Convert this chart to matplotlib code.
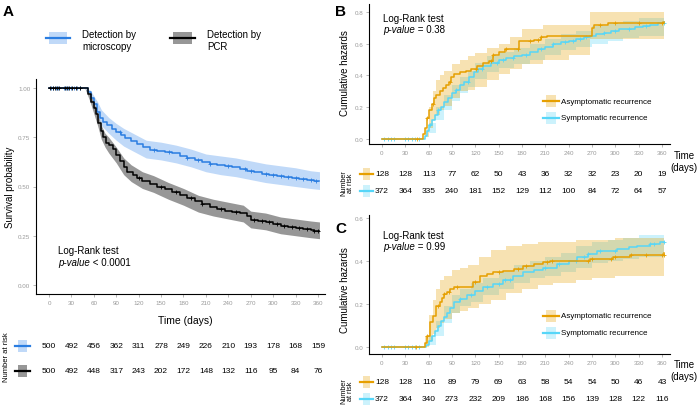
import numpy as np
import matplotlib
matplotlib.use("Agg")
import matplotlib.pyplot as plt
from matplotlib.lines import Line2D
from matplotlib.patches import Rectangle

plt.rcParams['font.family'] = ['Liberation Sans', 'DejaVu Sans']

W, H = 700, 406

# ---------------- data: panel A (survival) ----------------
mic_t = [0, 48, 52, 56, 60, 64, 68, 72, 78, 84, 90, 96, 102, 110, 118, 126, 135, 145, 155, 165,
         175, 185, 195, 205, 215, 225, 235, 245, 255, 265, 275, 285, 295, 305, 315, 325, 335, 345, 355, 362]
mic_s = [1.0, 1.0, 0.98, 0.95, 0.92, 0.88, 0.85, 0.83, 0.81, 0.79, 0.775, 0.76, 0.745, 0.73, 0.715, 0.70,
         0.685, 0.68, 0.675, 0.67, 0.655, 0.645, 0.635, 0.625, 0.615, 0.61, 0.605, 0.60, 0.59, 0.58,
         0.575, 0.565, 0.56, 0.555, 0.55, 0.545, 0.54, 0.535, 0.53, 0.53]
mic_band_t = [0, 48, 55, 60, 65, 70, 80, 90, 100, 115, 130, 150, 170, 190, 210, 230, 250, 270, 290, 310, 330, 350, 362]
mic_lo = [1.0, 1.0, 0.95, 0.90, 0.85, 0.81, 0.77, 0.735, 0.705, 0.675, 0.645, 0.635, 0.62, 0.60, 0.575,
          0.56, 0.55, 0.535, 0.52, 0.51, 0.50, 0.49, 0.485]
mic_hi = [1.0, 1.0, 0.99, 0.96, 0.93, 0.89, 0.85, 0.82, 0.795, 0.765, 0.735, 0.725, 0.71, 0.69, 0.665,
          0.655, 0.645, 0.63, 0.615, 0.605, 0.595, 0.58, 0.575]
mic_cens = [3, 6, 9, 12, 20, 23, 26, 29, 33, 38, 42, 95, 140, 160, 185, 200, 215, 240, 262, 270, 290,
            300, 310, 320, 330, 340, 350, 358]

pcr_t = [0, 48, 52, 56, 60, 63, 66, 69, 72, 76, 80, 85, 90, 95, 100, 105, 112, 118, 125, 135, 145, 155,
         165, 175, 185, 195, 205, 215, 225, 235, 245, 255, 265, 270, 280, 290, 300, 310, 320, 330, 340,
         350, 355, 362]
pcr_s = [1.0, 1.0, 0.97, 0.93, 0.90, 0.87, 0.82, 0.78, 0.75, 0.72, 0.71, 0.69, 0.66, 0.63, 0.60, 0.575,
         0.56, 0.545, 0.53, 0.515, 0.50, 0.485, 0.47, 0.455, 0.44, 0.425, 0.41, 0.395, 0.385, 0.375,
         0.37, 0.365, 0.35, 0.33, 0.325, 0.32, 0.31, 0.30, 0.295, 0.29, 0.285, 0.28, 0.275, 0.275]
pcr_band_t = [0, 48, 55, 60, 65, 70, 75, 80, 90, 100, 110, 125, 140, 160, 180, 200, 220, 240, 260, 270,
              290, 310, 330, 350, 362]
pcr_lo = [1.0, 1.0, 0.93, 0.87, 0.81, 0.74, 0.70, 0.67, 0.62, 0.56, 0.525, 0.49, 0.47, 0.435, 0.405,
          0.37, 0.35, 0.335, 0.32, 0.29, 0.28, 0.26, 0.25, 0.24, 0.235]
pcr_hi = [1.0, 1.0, 0.97, 0.93, 0.87, 0.81, 0.77, 0.75, 0.70, 0.645, 0.61, 0.575, 0.555, 0.52, 0.49,
          0.455, 0.435, 0.42, 0.405, 0.375, 0.365, 0.345, 0.335, 0.325, 0.32]
pcr_cens = [2, 5, 8, 11, 14, 21, 24, 27, 31, 36, 41, 120, 150, 170, 190, 205, 230, 250, 275, 285,
            295, 305, 315, 325, 335, 345, 355, 360]

risk_a_mic = [500, 492, 456, 362, 311, 278, 249, 226, 210, 193, 178, 168, 159]
risk_a_pcr = [500, 492, 448, 317, 243, 202, 172, 148, 132, 116, 95, 84, 76]

# ---------------- data: panel B (cumulative hazard) ----------------
b_asy_t = [0, 50, 53, 55, 58, 61, 64, 67, 70, 74, 78, 82, 86, 89, 92, 100, 108, 115, 122, 130, 138,
           143, 150, 158, 176, 195, 205, 212, 268, 270, 273, 290, 363]
b_asy_h = [0, 0, 0.03, 0.07, 0.13, 0.18, 0.22, 0.26, 0.28, 0.30, 0.32, 0.34, 0.36, 0.39, 0.41, 0.42,
           0.43, 0.44, 0.46, 0.48, 0.49, 0.53, 0.55, 0.565, 0.62, 0.625, 0.64, 0.65, 0.65, 0.70, 0.72,
           0.73, 0.735]
b_asy_band_t = [0, 50, 55, 60, 65, 70, 75, 80, 90, 100, 110, 120, 135, 150, 165, 180, 207, 240, 268, 300, 363]
b_asy_lo = [0, 0, 0.01, 0.07, 0.12, 0.15, 0.18, 0.21, 0.26, 0.30, 0.31, 0.33, 0.37, 0.41, 0.44, 0.47,
            0.50, 0.53, 0.63, 0.63, 0.63]
b_asy_hi = [0, 0, 0.06, 0.20, 0.30, 0.37, 0.40, 0.43, 0.47, 0.50, 0.52, 0.54, 0.57, 0.60, 0.64, 0.69,
            0.72, 0.72, 0.80, 0.80, 0.81]
b_asy_cens = [45, 58, 66, 88, 121, 140, 143, 160, 175, 190, 200, 205, 280, 300, 330, 360]

b_sym_t = [0, 52, 55, 58, 61, 64, 68, 72, 76, 80, 85, 90, 95, 100, 106, 112, 118, 124, 130, 140, 150,
           160, 170, 180, 190, 200, 210, 220, 230, 240, 250, 260, 268, 275, 285, 295, 305, 315, 325,
           335, 345, 355, 363]
b_sym_h = [0, 0, 0.02, 0.05, 0.09, 0.12, 0.15, 0.18, 0.20, 0.23, 0.26, 0.29, 0.31, 0.34, 0.36, 0.39,
           0.42, 0.44, 0.46, 0.48, 0.50, 0.51, 0.52, 0.53, 0.55, 0.565, 0.58, 0.595, 0.61, 0.62, 0.63,
           0.64, 0.65, 0.66, 0.67, 0.68, 0.69, 0.695, 0.705, 0.71, 0.72, 0.73, 0.735]
b_sym_band_t = [0, 52, 60, 70, 80, 90, 100, 110, 120, 135, 150, 170, 190, 210, 230, 250, 270, 290, 310, 330, 363]
b_sym_lo = [0, 0, 0.04, 0.12, 0.18, 0.24, 0.29, 0.33, 0.38, 0.42, 0.45, 0.47, 0.50, 0.53, 0.56, 0.58,
            0.60, 0.62, 0.635, 0.65, 0.67]
b_sym_hi = [0, 0, 0.10, 0.20, 0.28, 0.34, 0.39, 0.43, 0.48, 0.52, 0.55, 0.57, 0.60, 0.63, 0.66, 0.68,
            0.71, 0.73, 0.745, 0.76, 0.78]
b_sym_cens = [3, 8, 12, 16, 30, 34, 38, 42, 47, 62, 72, 95, 110, 128, 148, 155, 168, 185, 205, 220,
              235, 245, 255, 262, 285, 300, 318, 340, 362]

risk_b_asy = [128, 128, 113, 77, 62, 50, 43, 36, 32, 32, 23, 20, 19]
risk_b_sym = [372, 364, 335, 240, 181, 152, 129, 112, 100, 84, 72, 64, 57]

# ---------------- data: panel C (cumulative hazard) ----------------
c_asy_t = [0, 51, 55, 58, 62, 66, 70, 74, 77, 80, 83, 88, 92, 109, 117, 126, 135, 143, 156, 170, 181,
           195, 207, 216, 267, 297, 319, 363]
c_asy_h = [0, 0, 0.02, 0.05, 0.115, 0.145, 0.19, 0.21, 0.23, 0.245, 0.255, 0.27, 0.28, 0.28, 0.305,
           0.33, 0.34, 0.35, 0.355, 0.365, 0.378, 0.385, 0.395, 0.40, 0.41, 0.42, 0.43, 0.44]
c_asy_band_t = [0, 50, 55, 60, 65, 70, 75, 80, 90, 100, 110, 125, 140, 160, 180, 200, 220, 250, 270, 300, 363]
c_asy_lo = [0, 0, 0.0, 0.03, 0.06, 0.09, 0.11, 0.13, 0.16, 0.17, 0.18, 0.20, 0.22, 0.25, 0.27, 0.29,
            0.30, 0.31, 0.32, 0.33, 0.335]
c_asy_hi = [0, 0, 0.05, 0.15, 0.22, 0.27, 0.31, 0.33, 0.36, 0.37, 0.38, 0.42, 0.45, 0.47, 0.48, 0.49,
            0.49, 0.50, 0.50, 0.51, 0.51]
c_asy_cens = [44, 58, 72, 80, 86, 96, 120, 150, 175, 185, 212, 218, 265, 270, 295, 300, 320, 340, 360, 362]

c_sym_t = [0, 52, 56, 60, 64, 68, 72, 76, 80, 84, 88, 92, 100, 109, 120, 130, 143, 156, 168, 181, 195,
           207, 225, 240, 251, 265, 276, 302, 318, 328, 345, 357, 363]
c_sym_h = [0, 0, 0.01, 0.03, 0.05, 0.075, 0.10, 0.12, 0.14, 0.16, 0.18, 0.21, 0.225, 0.24, 0.26, 0.28,
           0.295, 0.31, 0.33, 0.35, 0.36, 0.37, 0.385, 0.40, 0.42, 0.435, 0.447, 0.455, 0.465, 0.47,
           0.48, 0.488, 0.49]
c_sym_band_t = [0, 52, 60, 70, 80, 90, 100, 115, 130, 150, 170, 190, 210, 230, 250, 270, 290, 310, 330, 363]
c_sym_lo = [0, 0, 0.01, 0.05, 0.11, 0.16, 0.19, 0.21, 0.24, 0.27, 0.30, 0.32, 0.33, 0.35, 0.37, 0.39,
            0.40, 0.41, 0.42, 0.44]
c_sym_hi = [0, 0, 0.05, 0.12, 0.19, 0.24, 0.27, 0.30, 0.32, 0.35, 0.38, 0.40, 0.42, 0.44, 0.47, 0.49,
            0.50, 0.51, 0.52, 0.53]
c_sym_cens = [3, 8, 12, 16, 30, 34, 38, 42, 47, 100, 115, 135, 150, 158, 165, 210, 228, 250, 260, 265,
              280, 300, 345, 350, 362]

risk_c_asy = [128, 128, 116, 89, 79, 69, 63, 58, 54, 54, 50, 46, 43]
risk_c_sym = [372, 364, 340, 273, 232, 209, 186, 168, 156, 139, 128, 122, 116]

risk_days = list(range(0, 361, 30))

# colours
BLUE, BLUE_BAND = "#2A7DE1", "#B9D5F8"
BLACK, GREY_BAND = "#000000", "#8C8C8C"
ORANGE, CYAN = "#E69F00", "#56D6F8"


def fx(px):
    return px / W


def fy(py):
    return 1 - py / H


def step_at(tq, t, v):
    idx = np.searchsorted(t, tq, side='right') - 1
    return np.asarray(v)[np.clip(idx, 0, len(v) - 1)]


def curve(ax, t, v, bt, lo, hi, cens, col, band, alpha, band_step='post'):
    ax.fill_between(bt, lo, hi, step=band_step, color=band, alpha=alpha, lw=0)
    ax.step(t, v, where='post', color=col, lw=1.1)
    ax.plot(cens, step_at(np.asarray(cens), t, v), ls='none', marker='+', ms=3.2, mew=0.6, color=col)


def style(ax, yticks, fmt):
    for s in ['top', 'right']:
        ax.spines[s].set_visible(False)
    for s in ['left', 'bottom']:
        ax.spines[s].set_linewidth(0.8)
    ax.set_xticks(risk_days)
    ax.set_yticks(yticks)
    ax.set_yticklabels([fmt.format(v) for v in yticks])
    ax.tick_params(labelsize=4.5, labelcolor='#9a9a9a', color='#9a9a9a', length=2, width=0.5, pad=2)


def key(x0, x1, y, col, band, alpha):
    # legend key: band square with a line through it (pixel coords)
    fig.add_artist(Rectangle((fx(x0 + 3), fy(y + 6)), fx(x1 - x0 - 6), 12 / H,
                             color=band, alpha=alpha, lw=0, transform=fig.transFigure))
    fig.add_artist(Line2D([fx(x0), fx(x1)], [fy(y), fy(y)], color=col, lw=1.6,
                          transform=fig.transFigure))


fig = plt.figure(figsize=(7, 4.06), dpi=100)

# ---------------- panel A ----------------
axA = fig.add_axes([fx(36), fy(295), fx(289), (295 - 80) / H])
curve(axA, mic_t, mic_s, mic_band_t, mic_lo, mic_hi, mic_cens, BLUE, BLUE_BAND, 0.9, None)
curve(axA, pcr_t, pcr_s, pcr_band_t, pcr_lo, pcr_hi, pcr_cens, BLACK, GREY_BAND, 0.9, None)
axA.set_xlim(-17.4, 369.4)
axA.set_ylim(-0.046, 1.046)
style(axA, [0, 0.25, 0.5, 0.75, 1.0], '{:.2f}')
fig.text(fx(185), fy(321), 'Time (days)', fontsize=7.5, ha='center', va='center')
fig.text(fx(10), fy(187), 'Survival probability', fontsize=7, rotation=90, ha='center', va='center')
fig.text(fx(58), fy(254), 'Log-Rank test', fontsize=7, va='baseline')
t = fig.text(fx(58), fy(266), 'p-value', fontsize=7, style='italic', va='baseline')
axA.annotate(' < 0.0001', xy=(1, 0), xycoords=t, fontsize=7, va='bottom')
fig.text(fx(3), fy(12), 'A', fontsize=11, fontweight='bold', va='center')

key(46, 70, 39, BLUE, BLUE_BAND, 0.9)
key(170, 195, 39, BLACK, GREY_BAND, 0.9)
fig.text(fx(82), fy(41), 'Detection by\nmicroscopy', fontsize=7, va='center', linespacing=1.25)
fig.text(fx(207), fy(41), 'Detection by\nPCR', fontsize=7, va='center', linespacing=1.25)

tr = matplotlib.transforms.blended_transform_factory(axA.transData, fig.transFigure)
for vals, py in [(risk_a_mic, 347), (risk_a_pcr, 372)]:
    for d, n in zip(risk_days, vals):
        fig.text(d, fy(py), str(n), transform=tr, fontsize=6, ha='center', va='center')
key(15, 30, 347, BLUE, BLUE_BAND, 0.9)
key(15, 30, 372, BLACK, GREY_BAND, 0.9)
fig.text(fx(7), fy(357), 'Number at risk', fontsize=5.5, rotation=90, ha='center', va='center')

# ---------------- panels B and C ----------------
panels = [
    ('B', [fx(369), fy(145), fx(301), 140 / H], (-0.0315, 0.85), [0, 0.2, 0.4, 0.6, 0.8],
     (b_asy_t, b_asy_h, b_asy_band_t, b_asy_lo, b_asy_hi, b_asy_cens),
     (b_sym_t, b_sym_h, b_sym_band_t, b_sym_lo, b_sym_hi, b_sym_cens),
     risk_b_asy, risk_b_sym, '0.38', 0),
    ('C', [fx(369), fy(355), fx(301), (355 - 216) / H], (-0.0326, 0.615), [0, 0.2, 0.4, 0.6],
     (c_asy_t, c_asy_h, c_asy_band_t, c_asy_lo, c_asy_hi, c_asy_cens),
     (c_sym_t, c_sym_h, c_sym_band_t, c_sym_lo, c_sym_hi, c_sym_cens),
     risk_c_asy, risk_c_sym, '0.99', 217),
]
for lab, rect, ylim, yt, asy, sym, r_asy, r_sym, p, dy in panels:
    ax = fig.add_axes(rect)
    curve(ax, *sym, CYAN, CYAN, 0.3)
    curve(ax, *asy, ORANGE, ORANGE, 0.3)
    ax.set_xlim(-16.7, 370.3)
    ax.set_ylim(*ylim)
    style(ax, yt, '{:.1f}')
    fig.text(fx(335), fy(12 + dy), lab, fontsize=11, fontweight='bold', va='center')
    fig.text(fx(383), fy(22 + dy), 'Log-Rank test', fontsize=7, va='baseline')
    t = fig.text(fx(383), fy(33 + dy), 'p-value', fontsize=7, style='italic', va='baseline')
    ax.annotate(' = ' + p, xy=(1, 0), xycoords=t, fontsize=7, va='bottom')
    fig.text(fx(345), fy(73 + dy), 'Cumulative hazards', fontsize=7, rotation=90,
             ha='center', va='center')
    # legend
    ly = 102 if lab == 'B' else 317
    key(543, 559, ly, ORANGE, ORANGE, 0.3)
    key(543, 559, ly + 17, CYAN, CYAN, 0.3)
    fig.text(fx(561), fy(ly), 'Asymptomatic recurrence', fontsize=5.8, va='center')
    fig.text(fx(561), fy(ly + 17), 'Symptomatic recurrence', fontsize=5.8, va='center')
    fig.text(fx(684), fy(162 if lab == 'B' else 371), 'Time\n(days)', fontsize=7,
             ha='center', va='center', linespacing=1.2)
    # risk table
    tr = matplotlib.transforms.blended_transform_factory(ax.transData, fig.transFigure)
    r0 = 175 if lab == 'B' else 383
    for vals, py in [(r_asy, r0), (r_sym, r0 + 17)]:
        for d, n in zip(risk_days, vals):
            fig.text(d, fy(py), str(n), transform=tr, fontsize=6, ha='center', va='center')
    key(360, 373, r0, ORANGE, ORANGE, 0.3)
    key(360, 373, r0 + 17, CYAN, CYAN, 0.3)
    fig.text(fx(347), fy(r0 + 8), 'Number\nat risk', fontsize=5.2, rotation=90, ha='center',
             va='center', linespacing=1.0)

fig.savefig('out.png', dpi=100)
